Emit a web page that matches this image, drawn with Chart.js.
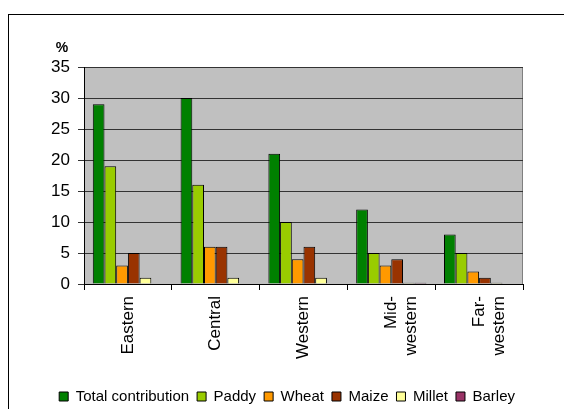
<!DOCTYPE html>
<html lang="en">
  <head>
    <meta charset="UTF-8" />
    <title>contribution by region</title>
    <style>
      html, body { margin: 0; padding: 0; background: #ffffff; }
      #wrap { width: 564px; height: 409px; }
    </style>
  </head>
  <body>
    <div id="wrap">
      <canvas id="regionChart" width="564" height="409"></canvas>
    </div>

    <script src="https://cdn.jsdelivr.net/npm/chart.js"></script>

    <script>
      const regions = ["Eastern", "Central", "Western", ["Mid-", "western"], ["Far-", "western"]];
      const total = [29, 30, 21, 12, 8];
      const paddy = [19, 16, 10, 5, 5];
      const wheat = [3, 6, 4, 3, 2];
      const maize = [5, 6, 6, 4, 1];
      const millet = [1, 1, 1, 0.2, 0.2];
      const barley = [0, 0, 0, 0.2, 0];

      const FONT = "'Liberation Sans', Arial, sans-serif";

      // grey plot area + frame round the whole chart
      const backdrop = {
        id: "backdrop",
        beforeDraw(chart) {
          const { ctx, chartArea: a } = chart;
          ctx.save();
          ctx.strokeStyle = "#000000";
          ctx.lineWidth = 1;
          ctx.strokeRect(8.5, 14.5, 600, 420);
          ctx.fillStyle = "#c0c0c0";
          ctx.fillRect(a.left, a.top, a.right - a.left, a.bottom - a.top);
          ctx.strokeStyle = "#808080";
          ctx.strokeRect(a.left + 0.5, a.top + 0.5, a.right - a.left - 1, a.bottom - a.top);
          ctx.restore();
        },
        afterDraw(chart) {
          const { ctx, chartArea: a } = chart;
          ctx.save();
          ctx.fillStyle = "#000000";
          ctx.font = "bold 14px " + FONT;
          ctx.textAlign = "center";
          ctx.fillText("%", a.left - 22, a.top - 19);
          ctx.restore();
        },
      };

      const series = [
        ["Total contribution", total, "#008000"],
        ["Paddy", paddy, "#99cc00"],
        ["Wheat", wheat, "#ff9900"],
        ["Maize", maize, "#993300"],
        ["Millet", millet, "#ffff99"],
        ["Barley", barley, "#993366"],
      ];

      new Chart(document.getElementById("regionChart"), {
        type: "bar",
        data: {
          labels: regions,
          datasets: series.map(([label, data, color]) => ({
            label: label,
            data: data,
            backgroundColor: color,
            borderColor: "#000000",
            borderWidth: 1,
            categoryPercentage: 0.8,
            barPercentage: 1,
          })),
        },
        options: {
          responsive: false,
          animation: false,
          layout: { padding: { left: 9, right: 41, top: 67, bottom: -5 } },
          plugins: {
            tooltip: { enabled: false },
            legend: {
              position: "bottom",
              align: "end",
              labels: {
                color: "#000000",
                font: { size: 15, family: FONT },
                boxWidth: 9,
                boxHeight: 9,
                padding: 8,
              },
            },
          },
          scales: {
            x: {
              afterFit(scale) { scale.height = 97; },
              grid: {
                offset: true,
                drawOnChartArea: false,
                drawTicks: true,
                tickLength: 6,
                color: "#000000",
              },
              border: { color: "#000000" },
              ticks: {
                color: "#000000",
                font: { size: 17, family: FONT },
                minRotation: 90,
                maxRotation: 90,
                padding: 6,
              },
            },
            y: {
              min: 0,
              max: 35,
              afterFit(scale) { scale.width = 75; },
              grid: {
                color: "#333333",
                tickLength: 6,
              },
              border: { color: "#000000" },
              ticks: {
                stepSize: 5,
                color: "#000000",
                font: { size: 17, family: FONT },
                padding: 8,
              },
            },
          },
        },
        plugins: [backdrop],
      });
    </script>
  </body>
</html>
